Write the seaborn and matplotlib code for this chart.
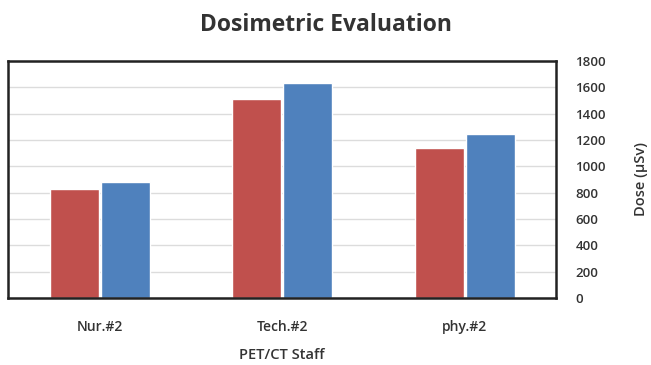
import matplotlib
matplotlib.use("Agg")
import matplotlib.pyplot as plt
import seaborn as sns
import pandas as pd

categories = ["Nur.#2", "Tech.#2", "phy.#2"]
series_a = [825, 1510, 1140]
series_b = [880, 1630, 1243]
series_names = ["A", "B"]
y_ticks = [0, 200, 400, 600, 800, 1000, 1200, 1400, 1600, 1800]

df = pd.DataFrame({
    "staff": categories * 2,
    "dose": series_a + series_b,
    "series": [series_names[0]] * 3 + [series_names[1]] * 3,
})

sns.set_theme(style="white")
plt.rcParams["font.family"] = ["Open Sans", "DejaVu Sans"]

fig = plt.figure(figsize=(6.51, 3.65), dpi=100)
ax = fig.add_axes([0.013, 0.184, 0.841, 0.649])

sns.barplot(data=df, x="staff", y="dose", hue="series",
            palette=["#C0504D", "#4F81BD"], width=0.56, gap=0.04,
            saturation=1, legend=False, ax=ax)

ax.set_ylim(0, 1800)
ax.set_yticks(y_ticks)
ax.yaxis.tick_right()
ax.yaxis.set_label_position("right")
ax.grid(axis="y", color="#dcdcdc", linewidth=1.0)
ax.set_axisbelow(True)
for s in ax.spines.values():
    s.set_visible(True)
    s.set_color("#222222")
    s.set_linewidth(1.8)
ax.tick_params(axis="y", length=0, labelsize=9.5, pad=14, colors="#333333")
ax.tick_params(axis="x", length=0, labelsize=10, pad=16, colors="#333333")
for lbl in ax.get_xticklabels() + ax.get_yticklabels():
    lbl.set_fontweight("semibold")

ax.set_xlabel("PET/CT Staff", fontsize=10.5, fontweight="semibold", color="#333333", labelpad=10)
ax.set_ylabel("Dose (µSv)", fontsize=10.5, fontweight="semibold", color="#333333", labelpad=20)
fig.suptitle("Dosimetric Evaluation", x=0.5, y=0.965, fontsize=16.5, fontweight="bold", color="#333333")

fig.savefig("out.png", dpi=100)
